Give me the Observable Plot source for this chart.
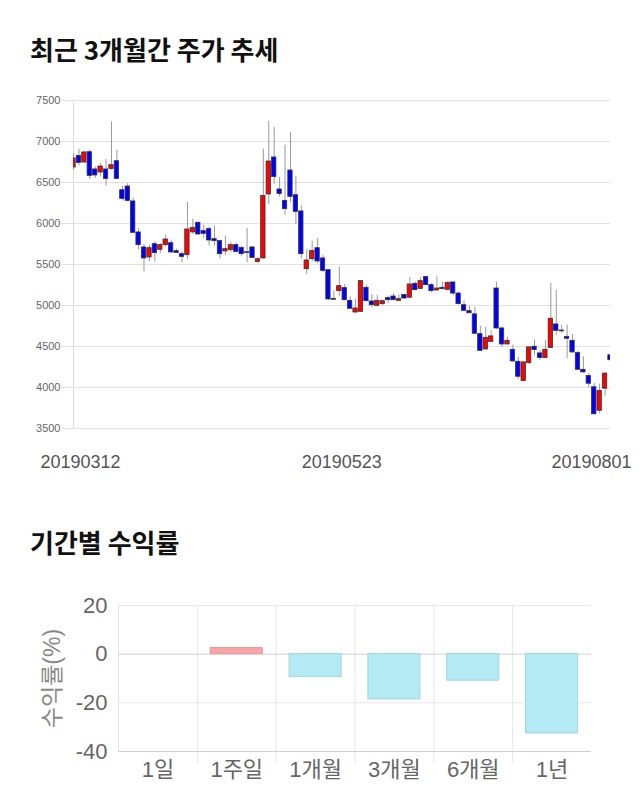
<!DOCTYPE html>
<html><head><meta charset="utf-8">
<script src="https://cdn.jsdelivr.net/npm/d3@7"></script>
<script src="https://cdn.jsdelivr.net/npm/@observablehq/plot@0.6"></script>
<style>
body{margin:0;background:#fff;width:640px;height:810px;position:relative;overflow:hidden;font-family:"Noto Sans CJK KR",sans-serif;}
.title{position:absolute;left:30px;font-size:26px;font-weight:bold;color:#111;line-height:1;white-space:nowrap;}
#t1{top:36px}
#t2{top:529px}
#c1{position:absolute;left:0;top:85px}
#c2{position:absolute;left:0;top:590px}
</style></head><body>
<div class="title" id="t1">최근 3개월간 주가 추세</div>
<div id="c1"></div>
<div class="title" id="t2">기간별 수익률</div>
<div id="c2"></div>
<script>
// ---- daily candles (index 0 = 20190312 ... 99 = 20190801)
const openP  = [6683,6824,6744,6870,6659,6622,6659,6666,6760,6406,6451,6269,5891,5708,5586,5748,5679,5736,5760,5663,
                5626,5614,5891,6008,5907,5931,5809,5785,5659,5675,5736,5703,5650,5708,5532,5574,6354,6805,6415,6276,
                6646,6345,6147,5443,5565,5699,5574,5431,5070,5175,5212,5057,4915,4923,5216,5049,4996,5017,5090,5110,
                5057,5127,5095,5264,5203,5346,5248,5183,5216,5191,5281,5146,5004,4931,4892,4651,4464,4557,5207,4720,
                4525,4460,4314,4079,4297,4497,4416,4359,4481,4769,4695,4618,4569,4420,4216,4140,4003,3716,3986,4393];
const highP  = [6854,6906,6882,6898,6690,6732,6781,7239,6894,6455,6488,6309,5940,5748,5736,5776,5756,5858,5797,5687,
                5654,6256,6053,6020,5980,5960,5967,5793,5846,5769,5760,5715,5940,5720,5581,6906,7247,7171,6561,6955,
                7110,6577,6215,5680,5785,5818,5614,5440,5180,5468,5256,5106,5078,5300,5248,5134,5126,5065,5114,5146,
                5130,5138,5342,5288,5342,5358,5268,5358,5288,5288,5288,5163,5057,4992,4976,4749,4733,4691,5285,4741,
                4611,4519,4367,4306,4489,4578,4448,4570,5269,5187,4761,4761,4647,4440,4375,4173,4051,4042,4185,4781];
const lowP   = [6650,6703,6732,6537,6549,6568,6459,6650,6540,6276,6264,5880,5675,5410,5532,5532,5634,5715,5634,5634,
                5520,5565,5866,5858,5818,5724,5724,5565,5605,5647,5642,5593,5520,5577,5508,5565,6232,6479,6321,6102,
                6256,5988,5565,5379,5532,5513,5403,5062,5062,5110,5053,4952,4903,4915,5041,4972,4988,4992,5025,5065,
                5045,5082,5082,5179,5196,5240,5155,5175,5191,5183,5122,5004,4923,4903,4655,4447,4456,4550,4708,4488,
                4517,4306,4095,4071,4277,4387,4326,4350,4481,4630,4660,4350,4416,4208,4176,3998,3670,3680,3892,4150];
const closeP = [6793,6739,6866,6581,6586,6695,6544,6711,6544,6300,6276,5886,5736,5574,5699,5638,5736,5805,5647,5642,
                5593,5927,5947,5866,5874,5793,5785,5626,5687,5736,5654,5626,5642,5581,5565,6337,6756,6568,6361,6175,
                6325,6142,5626,5549,5663,5537,5423,5074,5080,5236,5065,4960,4964,5297,5053,5004,5057,5053,5065,5065,
                5078,5085,5256,5187,5297,5248,5175,5207,5199,5276,5146,5017,4935,4905,4655,4447,4606,4623,4720,4525,
                4569,4318,4131,4306,4489,4456,4359,4460,4838,4691,4685,4594,4428,4216,4184,4046,3673,3960,4169,4332];
const priceTicks = [3500,4000,4500,5000,5500,6000,6500,7000,7500];
const dateTickIdx = [0, 50, 99];
const dateLabels = ["20190312","20190523","20190801"];
const dateDx = [7, -3, -19];

// ---- period returns
const periods = ["1일","1주일","1개월","3개월","6개월","1년"];
const returns = [0, 2.5, -9.4, -18.6, -10.9, -32.6];
const returnTicks = [20, 0, -20, -40];

const candles = openP.map((o, i) => ({i, o, h: highP[i], l: lowP[i], c: closeP[i]}));

const chart1 = Plot.plot({
  width: 640, height: 400,
  marginLeft: 73, marginRight: 30, marginTop: 15, marginBottom: 57,
  style: {fontFamily: "Liberation Sans, Arial, sans-serif", background: "#fff"},
  x: {domain: [0, candles.length - 1], axis: null},
  y: {domain: [3500, 7500], axis: null},
  marks: [
    Plot.gridY(priceTicks, {stroke: "#e2e2e2", strokeOpacity: 1}),
    Plot.axisY(priceTicks, {tickSize: 12, stroke: "#e2e2e2", strokeOpacity: 1, tickPadding: 1, fontSize: 11, fill: "#666",
      tickFormat: d => String(d), label: null}),
    Plot.ruleX([0], {stroke: "#dcdcdc"}),
    Plot.ruleX(candles, {x: "i", y1: "l", y2: "h", stroke: "#999", strokeWidth: 1, clip: true}),
    Plot.rect(candles, {
      x1: d => d.i - 0.4, x2: d => d.i + 0.4, y1: "o", y2: "c",
      fill: d => d.c >= d.o ? "#ff0000" : "#0000ff",
      stroke: "#333", strokeWidth: 0.8, clip: true
    }),
    ...dateTickIdx.map((t, k) => Plot.axisX([t], {
      tickSize: 0, tickPadding: 27, fontSize: 18, fill: "#555", dx: dateDx[k],
      tickFormat: () => dateLabels[k], label: null
    }))
  ]
});
document.getElementById("c1").appendChild(chart1);

const rets = periods.map((p, i) => ({p, i, v: returns[i]}));
const bounds = d3.range(periods.length);          // category boundary lines
const inner = bounds.slice(1);
const centers = periods.map((p, i) => i + 0.5);

const chart2 = Plot.plot({
  width: 640, height: 215,
  marginLeft: 118, marginRight: 49, marginTop: 15, marginBottom: 54,
  style: {fontFamily: "Liberation Sans, Noto Sans CJK KR, sans-serif", background: "#fff"},
  x: {domain: [0, periods.length], axis: null},
  y: {domain: [-40, 20], axis: null},
  marks: [
    Plot.gridY([20, -20], {stroke: "#e6e6e6", strokeOpacity: 1}),
    Plot.gridX(bounds, {stroke: "#e6e6e6", strokeOpacity: 1}),
    Plot.axisX(inner, {tickSize: 12, stroke: "#e6e6e6", strokeOpacity: 1, tickFormat: () => "", label: null}),
    Plot.ruleY([0, -40], {stroke: "#cfcfcf"}),
    Plot.rect(rets.filter(d => d.v !== 0), {
      x1: d => d.i + 0.17, x2: d => d.i + 0.83, y1: 0, y2: "v",
      fill: d => d.v > 0 ? "#f6a6a8" : "#b3eaf3",
      stroke: d => d.v > 0 ? "#ec9296" : "#9fd6e0", strokeWidth: 1
    }),
    Plot.axisY(returnTicks, {tickSize: 0, tickPadding: 11, fontSize: 22, fill: "#666", tickFormat: d => String(d),
      label: null}),
    Plot.axisY([], {label: "수익률(%)", labelAnchor: "center", labelOffset: 75, labelArrow: false, fontSize: 23, fill: "#888", tickSize: 0}),
    Plot.axisX(centers, {tickSize: 0, tickPadding: 10, fontSize: 22, fill: "#666", tickFormat: (d, i) => periods[Math.floor(d)], label: null})
  ]
});
document.getElementById("c2").appendChild(chart2);
</script>
</body></html>
